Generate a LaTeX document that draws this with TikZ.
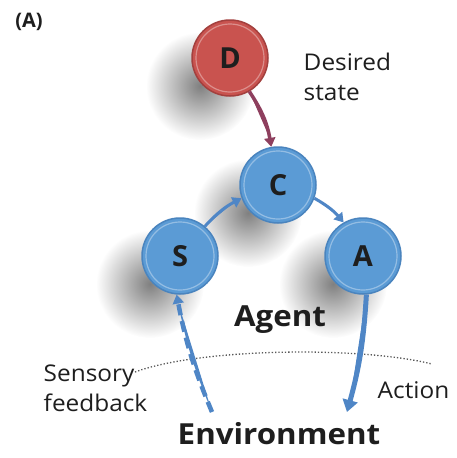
\documentclass[tikz,border=0pt]{standalone}
\usepackage{fontspec}
\setmainfont{Open Sans}
\usetikzlibrary{arrows.meta,fadings}
\tikzfading[name=softshadow, inner color=transparent!50, outer color=transparent!100]
\definecolor{ballblue}{HTML}{5B9BD5}
\definecolor{rimblue}{HTML}{4A84BE}
\definecolor{ballred}{HTML}{C9534F}
\definecolor{rimred}{HTML}{A3403E}
\definecolor{arrblue}{HTML}{4F86C6}
\definecolor{arrred}{HTML}{8E3F5E}
\definecolor{txt}{HTML}{1E1E1E}
\tikzset{
  ball/.style={circle, minimum size=76pt, inner sep=0pt, line width=1.5pt,
    font=\fontsize{29}{30}\selectfont\bfseries, text=txt},
  blueball/.style={ball, fill=ballblue, draw=rimblue},
  redball/.style={ball, fill=ballred, draw=rimred},
  conn/.style={draw=arrblue, fill=arrblue, line width=3.5pt, -{Triangle[length=9pt,width=11pt]}},
  lbl/.style={text=txt, font=\fontsize{23}{30}\selectfont, align=left, xscale=1.06},
  big/.style={text=txt, font=\fontsize{29}{32}\selectfont\bfseries, xscale=1.08},
}
\newcommand{\shadowblob}[2]{\fill[black, path fading=softshadow] (#1-30,#2+28) circle (54);}
\newcommand{\glassring}[3]{\draw[white, opacity=0.35, line width=1.2pt] (#1,#2) circle (#3);}
\begin{document}
\begin{tikzpicture}[x=1pt,y=-1pt]
\useasboundingbox[fill=white] (0,0) rectangle (456,458);
\shadowblob{230}{58}
\shadowblob{278}{185}
\shadowblob{180}{256}
\shadowblob{363}{256}
\node[text=txt, font=\fontsize{20}{22}\selectfont\bfseries] (lA) at (29,22) {(A)};
\node[redball] (D) at (230,58) {D};
\node[blueball] (C) at (278,185) {C};
\node[blueball] (S) at (180,256) {S};
\node[blueball] (A) at (363,256) {A};
\glassring{230}{58}{34}
\glassring{278}{185}{34}
\glassring{180}{256}{34}
\glassring{363}{256}{34}
\node[lbl, anchor=west] (des) at (300,77) {Desired\\state};
\node[big] (agent) at (280,320) {Agent};
\node[big] (env) at (279,434) {Environment};
\node[lbl, anchor=west] (sens) at (40,388) {Sensory\\feedback};
\node[lbl, anchor=west] (act) at (374,390) {Action};
\coordinate (dl) at (135,372);
\coordinate (dr) at (432,364);
\coordinate (fb) at (212,412);
\coordinate (ac) at (347,412);
\draw[dotted, line width=1.3pt, black!65] (dl) .. controls (200,348) and (360,346) .. (dr);
\draw[draw=arrred, fill=arrred, line width=3.5pt, -{Triangle[length=9pt,width=11pt]}] (D.300) to[bend left=12] (C.100);
\draw[conn, line width=3pt] (S.50) to[bend left=10] (C.200);
\draw[conn, line width=3pt] (C.-20) to[bend left=10] (A.120);
\draw[conn, dash pattern=on 11pt off 6pt, line width=4.5pt] (fb) to[bend left=6] (S.265);
\draw[conn, line width=5pt, -{Triangle[length=12pt,width=15pt]}] (A.275) to[bend left=6] (ac);
\end{tikzpicture}
\end{document}
